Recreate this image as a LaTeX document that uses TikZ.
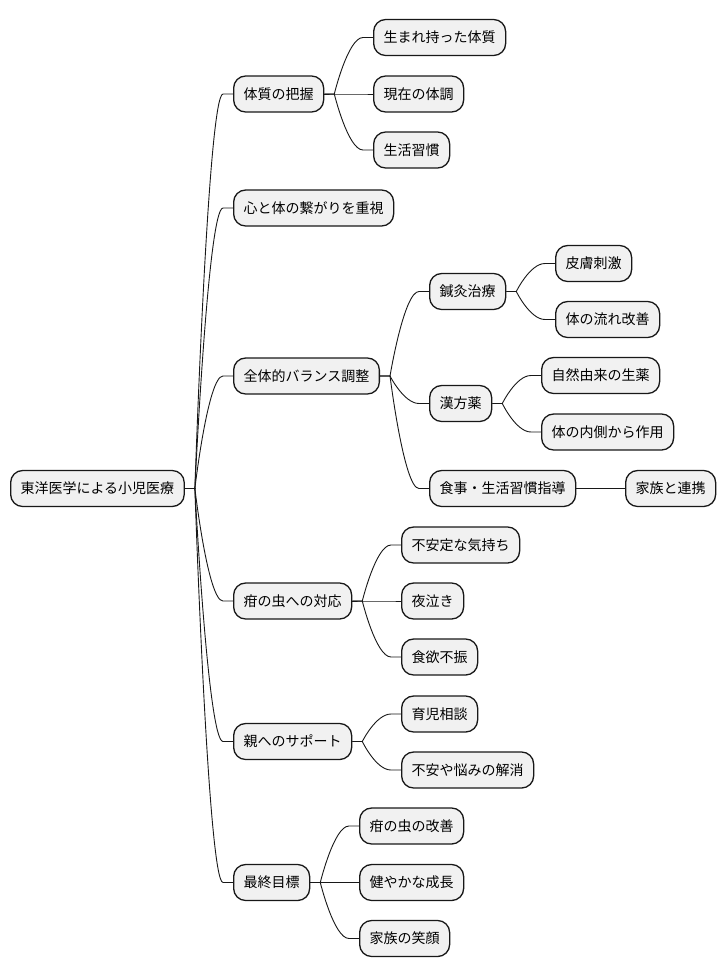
\documentclass[tikz,border=0pt]{standalone}
\usepackage{fontspec}
\setmainfont{Noto Sans CJK JP}
\definecolor{boxfill}{HTML}{F1F1F1}
\definecolor{boxline}{HTML}{181818}
\tikzset{
  mmbox/.style={draw=boxline, fill=boxfill, line width=1.3pt, rounded corners=12pt,
    minimum height=36pt, inner xsep=10pt, inner ysep=0pt, anchor=west,
    font=\fontsize{14pt}{16pt}\selectfont, text=black},
  mmedge/.style={draw=boxline, line width=0.9pt}
}
\newcommand\mmlink[2]{\draw[mmedge] (#1.east) -- ++(10,0) .. controls +(0,0) and +(-15,0) .. ([xshift=-10pt]#2.west) -- (#2.west);}
\begin{document}
\begin{tikzpicture}[x=1pt,y=-1pt]
\useasboundingbox (0,0) rectangle (726,978);
% root
\node[mmbox] (root) at (10,488.5) {東洋医学による小児医療};
% level 1
\node[mmbox] (a) at (233,94) {体質の把握};
\node[mmbox] (b) at (233,208) {心と体の繋がりを重視};
\node[mmbox] (c) at (233,376) {全体的バランス調整};
\node[mmbox] (d) at (233,601) {疳の虫への対応};
\node[mmbox] (e) at (233,741.5) {親へのサポート};
\node[mmbox] (f) at (233,882.5) {最終目標};
% under a
\node[mmbox] (a1) at (373,37.5) {生まれ持った体質};
\node[mmbox] (a2) at (373,94) {現在の体調};
\node[mmbox] (a3) at (373,150) {生活習慣};
% under c
\node[mmbox] (c1) at (429,291.5) {鍼灸治療};
\node[mmbox] (c2) at (429,403.5) {漢方薬};
\node[mmbox] (c3) at (429,488.5) {食事・生活習慣指導};
\node[mmbox] (c11) at (555,263.5) {皮膚刺激};
\node[mmbox] (c12) at (555,319.5) {体の流れ改善};
\node[mmbox] (c21) at (541,375.5) {自然由来の生薬};
\node[mmbox] (c22) at (541,432) {体の内側から作用};
\node[mmbox] (c31) at (625,488.5) {家族と連携};
% under d
\node[mmbox] (d1) at (401,545) {不安定な気持ち};
\node[mmbox] (d2) at (401,601) {夜泣き};
\node[mmbox] (d3) at (401,657) {食欲不振};
% under e
\node[mmbox] (e1) at (401,714) {育児相談};
\node[mmbox] (e2) at (401,770) {不安や悩みの解消};
% under f
\node[mmbox] (f1) at (359,826) {疳の虫の改善};
\node[mmbox] (f2) at (359,882.5) {健やかな成長};
\node[mmbox] (f3) at (359,938.5) {家族の笑顔};
% links
\mmlink{root}{a}
\mmlink{root}{b}
\mmlink{root}{c}
\mmlink{root}{d}
\mmlink{root}{e}
\mmlink{root}{f}
\mmlink{a}{a1}
\mmlink{a}{a2}
\mmlink{a}{a3}
\mmlink{c}{c1}
\mmlink{c}{c2}
\mmlink{c}{c3}
\mmlink{c1}{c11}
\mmlink{c1}{c12}
\mmlink{c2}{c21}
\mmlink{c2}{c22}
\mmlink{c3}{c31}
\mmlink{d}{d1}
\mmlink{d}{d2}
\mmlink{d}{d3}
\mmlink{e}{e1}
\mmlink{e}{e2}
\mmlink{f}{f1}
\mmlink{f}{f2}
\mmlink{f}{f3}
\end{tikzpicture}
\end{document}
